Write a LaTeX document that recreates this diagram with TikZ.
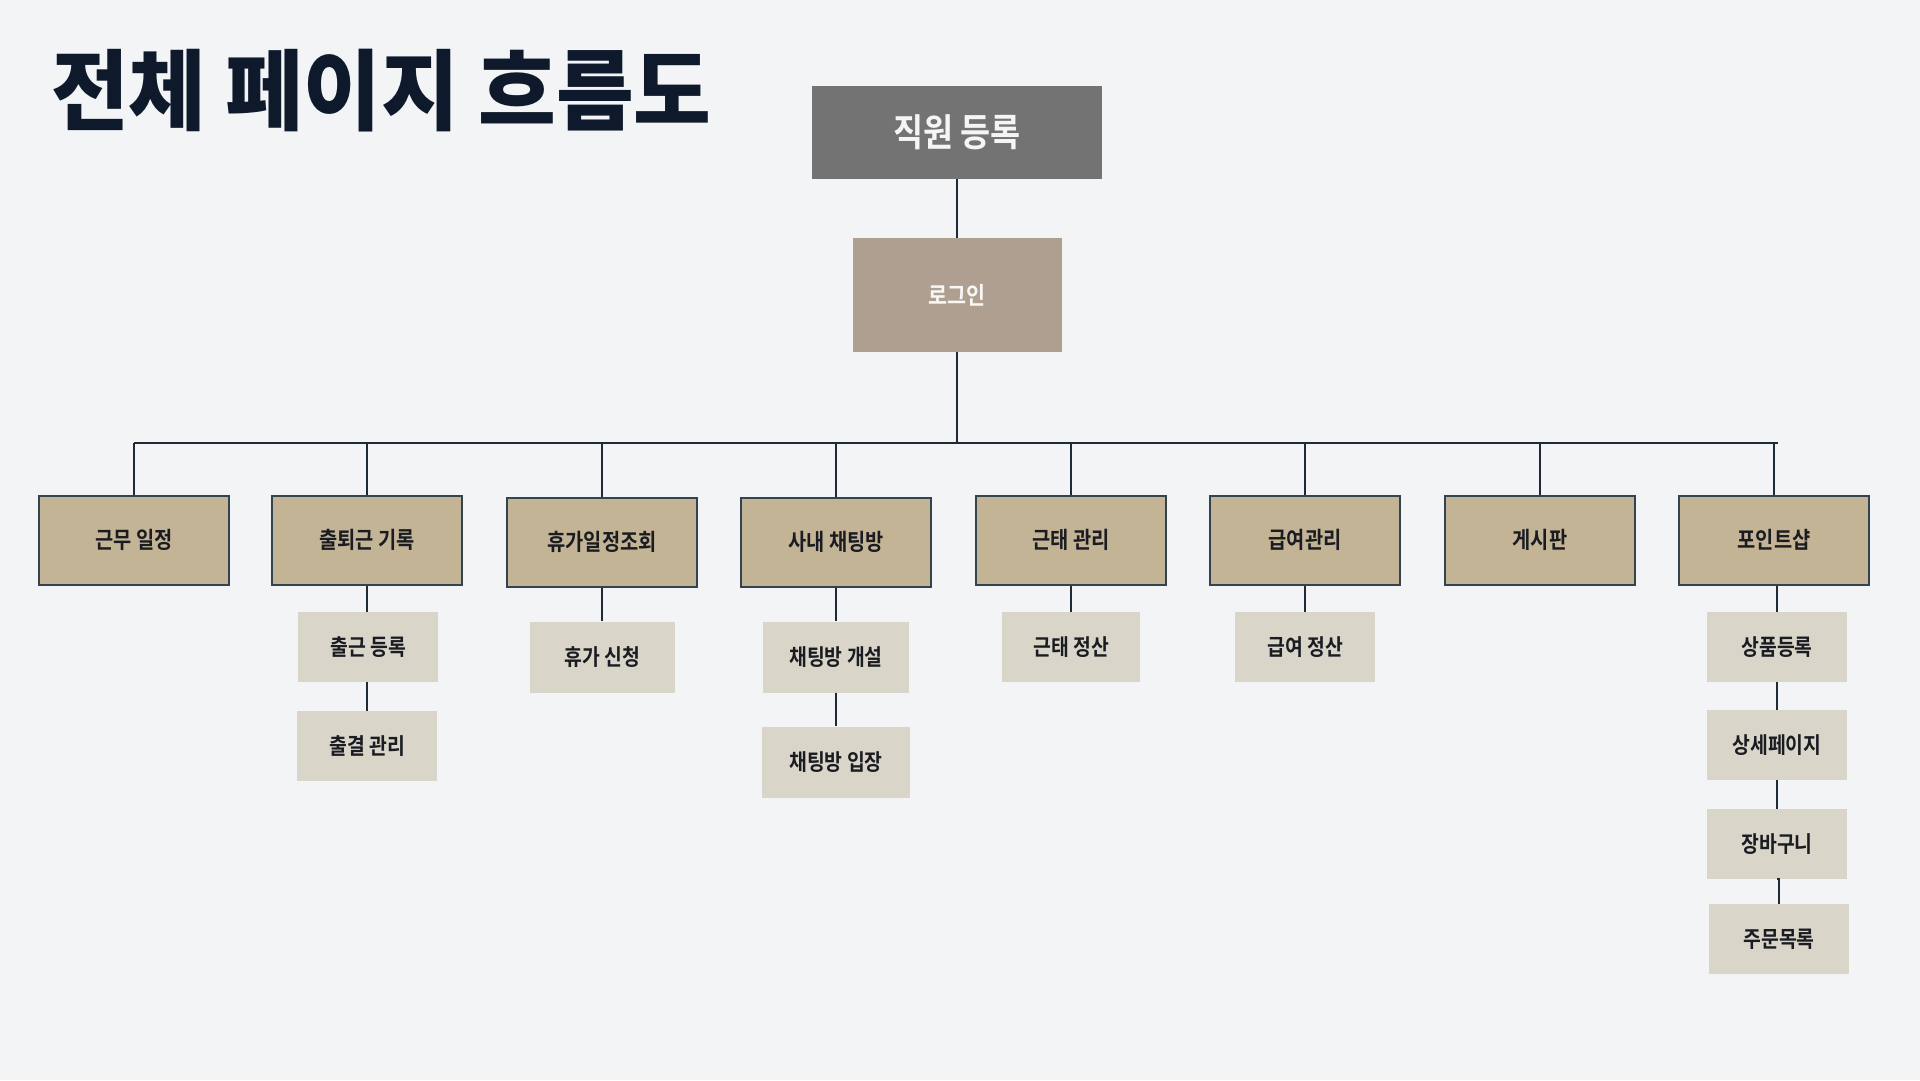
\documentclass[tikz,border=0pt]{standalone}
\usepackage{fontspec}
\setmainfont{Noto Sans CJK KR}[BoldFont=* Bold, FakeStretch=0.86]
\newfontfamily\titlefont{Noto Sans CJK KR}[UprightFont=* Black, FakeStretch=0.96]
\definecolor{bg}{HTML}{F2F4F6}
\definecolor{navy}{HTML}{0E1A2C}
\definecolor{linec}{HTML}{1E2A36}
\definecolor{regc}{HTML}{737373}
\definecolor{loginc}{HTML}{AE9F90}
\definecolor{mainc}{HTML}{C4B496}
\definecolor{mainb}{HTML}{34434E}
\definecolor{subc}{HTML}{D9D5C9}
\definecolor{txt}{HTML}{1A1C22}
\tikzset{
  conn/.style={draw=linec, line width=2.2pt},
  mainbox/.style={rectangle, fill=mainc, draw=mainb, line width=2pt, minimum width=190pt, minimum height=89pt, inner sep=0pt, text=txt, font=\bfseries\fontsize{23}{23}\selectfont},
  subbox/.style={rectangle, fill=subc, minimum width=140pt, minimum height=70pt, inner sep=0pt, text=txt, font=\bfseries\fontsize{22.5}{22.5}\selectfont}
}
\begin{document}
\begin{tikzpicture}[x=1pt,y=-1pt]
\fill[bg] (0,0) rectangle (1920,1080);
\useasboundingbox (0,0) rectangle (1920,1080);
\node[anchor=west, inner sep=0pt, text=navy, font=\titlefont\fontsize{88}{88}\selectfont] (title) at (51,91) {전체 페이지 흐름도};
\node[rectangle, fill=regc, minimum width=290pt, minimum height=93pt, inner sep=0pt, text=white!92!gray, font=\bfseries\fontsize{38}{38}\selectfont] (reg) at (957,132) {직원 등록};
\node[rectangle, fill=loginc, minimum width=209pt, minimum height=114pt, inner sep=0pt, text=white!92!loginc, font=\bfseries\fontsize{24}{24}\selectfont] (login) at (957,295) {로그인};
\node[mainbox] (m1) at (134,540) {근무 일정};
\node[mainbox] (m2) at (367,540) {출퇴근 기록};
\node[mainbox] (m3) at (602,542) {휴가일정조회};
\node[mainbox] (m4) at (836,542) {사내 채팅방};
\node[mainbox] (m5) at (1071,540) {근태 관리};
\node[mainbox] (m6) at (1305,540) {급여관리};
\node[mainbox] (m7) at (1540,540) {게시판};
\node[mainbox] (m8) at (1774,540) {포인트샵};
\node[subbox] (s1) at (368,647) {출근 등록};
\node[subbox] (s2) at (367,746) {출결 관리};
\node[subbox, minimum width=145pt, minimum height=71pt] (s3) at (602,657) {휴가 신청};
\node[subbox, minimum width=146pt, minimum height=71pt] (s4) at (836,657) {채팅방 개설};
\node[subbox, minimum width=148pt, minimum height=71pt] (s5) at (836,762) {채팅방 입장};
\node[subbox, minimum width=138pt] (s6) at (1071,647) {근태 정산};
\node[subbox] (s7) at (1305,647) {급여 정산};
\node[subbox] (s8) at (1777,647) {상품등록};
\node[subbox] (s9) at (1777,745) {상세페이지};
\node[subbox] (s10) at (1777,844) {장바구니};
\node[subbox] (s11) at (1779,939) {주문목록};
\coordinate (hub) at (957,443);
\coordinate (barL) at (134,443);
\coordinate (barR) at (1778,443);
\draw[conn] (reg) -- (login);
\draw[conn] (login) -- (hub);
\draw[conn] (barL) -- (barR);
\foreach \m in {m1,m2,m3,m4,m5,m6,m7,m8}{
  \draw[conn] (\m.north |- hub) -- (\m.north);
}
\draw[conn] (m2.south) -- (m2.south |- s1.north);
\draw[conn] (s1.south -| m2.south) -- (s2);
\draw[conn] (m3) -- (s3);
\draw[conn] (m4) -- (s4);
\draw[conn] (s4) -- (s5);
\draw[conn] (m5) -- (s6);
\draw[conn] (m6) -- (s7);
\draw[conn] (m8.south -| s8.north) -- (s8);
\draw[conn] (s8) -- (s9);
\draw[conn] (s9) -- (s10);
\draw[conn] (s10.south) -- (s10.south -| s11.north) -- (s11);
\end{tikzpicture}
\end{document}
